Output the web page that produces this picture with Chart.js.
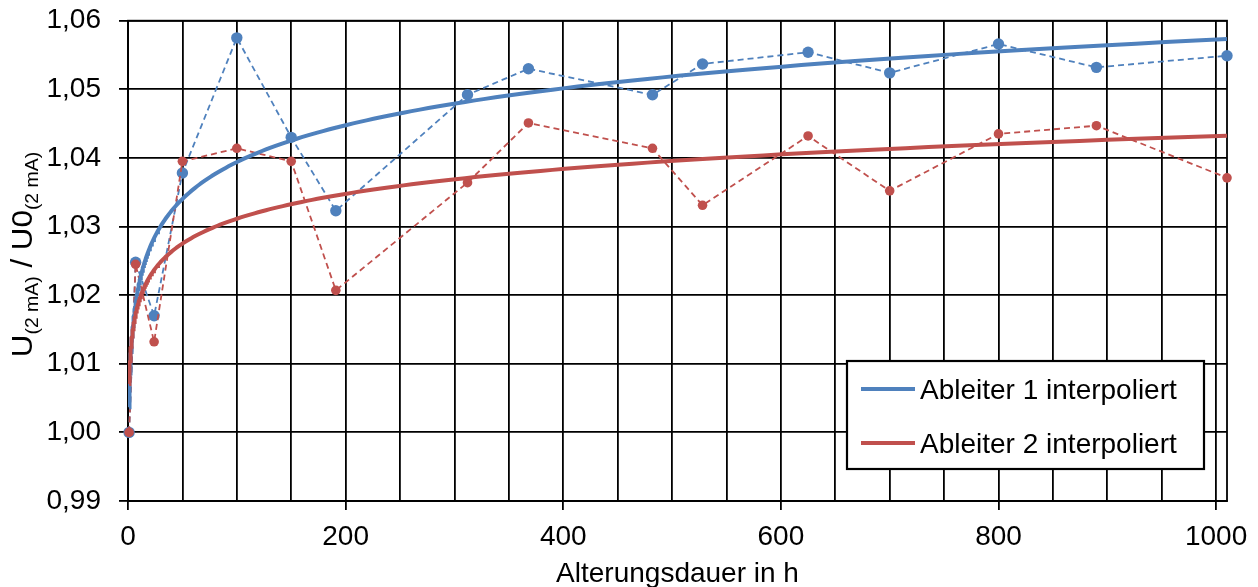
<!DOCTYPE html>
<html>
<head>
<meta charset="utf-8">
<script src="https://cdn.jsdelivr.net/npm/chart.js@4/dist/chart.umd.min.js"></script>
<style>
  html, body { margin: 0; padding: 0; background: #fff; }
  #wrap { width: 1258px; height: 587px; }
</style>
</head>
<body>
<div id="wrap"><canvas id="chart" width="1258" height="587"></canvas></div>
<script>
// Messpunkte: Alterungsdauer in h und U(2 mA)/U0(2 mA) je Ableiter
const hours     = [1, 7, 24, 50, 100, 150, 191, 312, 368, 482, 528, 625, 700, 800, 890, 1010];
const ableiter1 = [1.0000, 1.0248, 1.0170, 1.0378, 1.0575, 1.0430, 1.0323, 1.0492, 1.0530, 1.0492, 1.0537, 1.0554, 1.0524, 1.0566, 1.0532, 1.0549];
const ableiter2 = [1.0000, 1.0245, 1.0132, 1.0395, 1.0414, 1.0395, 1.0207, 1.0364, 1.0451, 1.0414, 1.0331, 1.0432, 1.0352, 1.0435, 1.0447, 1.0371];
const seriesNames = ['Ableiter 1 interpoliert', 'Ableiter 2 interpoliert'];

// Achsen
const xMin = 0, xMax = 1010, xGridStep = 50, xLabelStep = 200;
const yMin = 0.99, yMax = 1.06, yStep = 0.01;
const xTitle = 'Alterungsdauer in h';

const BLUE = '#4F81BD';
const RED = '#C0504D';
const FONT = '"Liberation Sans", Arial, sans-serif';
const GRID_W = 1.8;

Chart.defaults.font.family = FONT;
Chart.defaults.color = '#000';

// logarithmische Trendlinie y = a*ln(x) + b (kleinste Quadrate)
function logFit(xs, ys) {
    const n = xs.length;
    let sl = 0, sy = 0, sll = 0, sly = 0;
    xs.forEach((x, i) => {
        const l = Math.log(x);
        sl += l; sy += ys[i]; sll += l * l; sly += l * ys[i];
    });
    const a = (n * sly - sl * sy) / (n * sll - sl * sl);
    const b = (sy - a * sl) / n;
    return { a, b };
}

function fitCurve(fit) {
    const first = hours[0], last = hours[hours.length - 1];
    const pts = [];
    const steps = 240;
    for (let i = 0; i <= steps; i++) {
        const x = first * Math.pow(last / first, i / steps);
        pts.push({ x, y: fit.a * Math.log(x) + fit.b });
    }
    return pts;
}

const fit1 = logFit(hours, ableiter1);
const fit2 = logFit(hours, ableiter2);

const points = ys => hours.map((x, i) => ({ x, y: ys[i] }));

// Legende im Diagramm, Rahmen um die Zeichenfläche, Achsentitel
const extras = {
    id: 'extras',
    beforeDatasetsDraw(chart) {
        const { ctx, chartArea: a } = chart;
        ctx.save();
        ctx.strokeStyle = '#000';
        ctx.lineWidth = GRID_W;
        ctx.strokeRect(a.left, a.top, a.right - a.left, a.bottom - a.top);
        ctx.restore();
    },
    afterDraw(chart) {
        const { ctx, chartArea: a } = chart;
        ctx.save();

        // Legende
        const w = 357, h = 108;
        const left = a.right - 23 - w, top = a.bottom - 32 - h;
        ctx.fillStyle = '#fff';
        ctx.fillRect(left, top, w, h);
        ctx.strokeStyle = '#000';
        ctx.lineWidth = 2.2;
        ctx.strokeRect(left, top, w, h);
        ctx.font = '28px ' + FONT;
        ctx.textBaseline = 'alphabetic';
        ctx.textAlign = 'left';
        [BLUE, RED].forEach((c, i) => {
            const y = top + 28 + i * 54;
            ctx.strokeStyle = c;
            ctx.lineWidth = 4;
            ctx.beginPath();
            ctx.moveTo(left + 14, y);
            ctx.lineTo(left + 68, y);
            ctx.stroke();
            ctx.fillStyle = '#000';
            ctx.fillText(seriesNames[i], left + 73, y + 10);
        });

        // x-Achsentitel
        ctx.textAlign = 'center';
        ctx.fillText(xTitle, (a.left + a.right) / 2, 582);

        // y-Achsentitel mit Indizes
        const parts = [
            ['U', 29, 0], ['(2 mA)', 18, 6], [' / U0', 29, 0], ['(2 mA)', 18, 6]
        ];
        let total = 0;
        parts.forEach(p => { ctx.font = p[1] + 'px ' + FONT; total += ctx.measureText(p[0]).width; });
        const stretch = 1.08;
        ctx.translate(31.5, 254.5);
        ctx.rotate(-Math.PI / 2);
        ctx.scale(stretch, 1);
        ctx.textAlign = 'left';
        let x = -total / 2;
        parts.forEach(p => {
            ctx.font = p[1] + 'px ' + FONT;
            ctx.fillText(p[0], x, p[2]);
            x += ctx.measureText(p[0]).width;
        });
        ctx.restore();
    }
};

new Chart(document.getElementById('chart'), {
    type: 'scatter',
    data: {
        datasets: [
            {
                label: seriesNames[1],
                data: fitCurve(fit2),
                showLine: true, borderColor: RED, borderWidth: 4,
                pointRadius: 0, tension: 0, order: 0
            },
            {
                label: seriesNames[0],
                data: fitCurve(fit1),
                showLine: true, borderColor: BLUE, borderWidth: 4,
                pointRadius: 0, tension: 0, order: 1
            },
            {
                label: 'Ableiter 2',
                data: points(ableiter2),
                showLine: true, borderColor: RED, borderWidth: 1.8, borderDash: [6, 4],
                pointRadius: 4.8, pointBackgroundColor: RED, pointBorderWidth: 0,
                clip: false, order: 2
            },
            {
                label: 'Ableiter 1',
                data: points(ableiter1),
                showLine: true, borderColor: BLUE, borderWidth: 1.8, borderDash: [6, 4],
                pointRadius: 5.7, pointBackgroundColor: BLUE, pointBorderWidth: 0,
                clip: false, order: 3
            }
        ]
    },
    options: {
        responsive: false,
        animation: false,
        layout: { padding: { top: 20.7, right: 31, left: 0, bottom: 0 } },
        plugins: { legend: { display: false }, tooltip: { enabled: false } },
        scales: {
            x: {
                type: 'linear', min: xMin, max: xMax,
                afterFit: s => { s.height = 86; },
                ticks: {
                    stepSize: xGridStep, includeBounds: false, autoSkip: false,
                    maxRotation: 0, padding: 10,
                    font: { size: 28 },
                    callback: v => (v % xLabelStep === 0 ? String(v) : '')
                },
                grid: {
                    color: '#000', lineWidth: GRID_W, tickLength: 9,
                    tickColor: c => (c.tick && c.tick.value % xLabelStep === 0 ? '#000' : 'rgba(0,0,0,0)')
                },
                border: { color: '#000', width: GRID_W }
            },
            y: {
                min: yMin, max: yMax,
                afterFit: s => { s.width = 128; s.paddingTop = 0; s.paddingBottom = 0; },
                ticks: {
                    stepSize: yStep, padding: 18,
                    font: { size: 28 },
                    callback: v => v.toFixed(2).replace('.', ',')
                },
                grid: { color: '#000', lineWidth: GRID_W, tickLength: 9, tickColor: '#000' },
                border: { color: '#000', width: GRID_W }
            }
        }
    },
    plugins: [extras]
});
</script>
</body>
</html>
